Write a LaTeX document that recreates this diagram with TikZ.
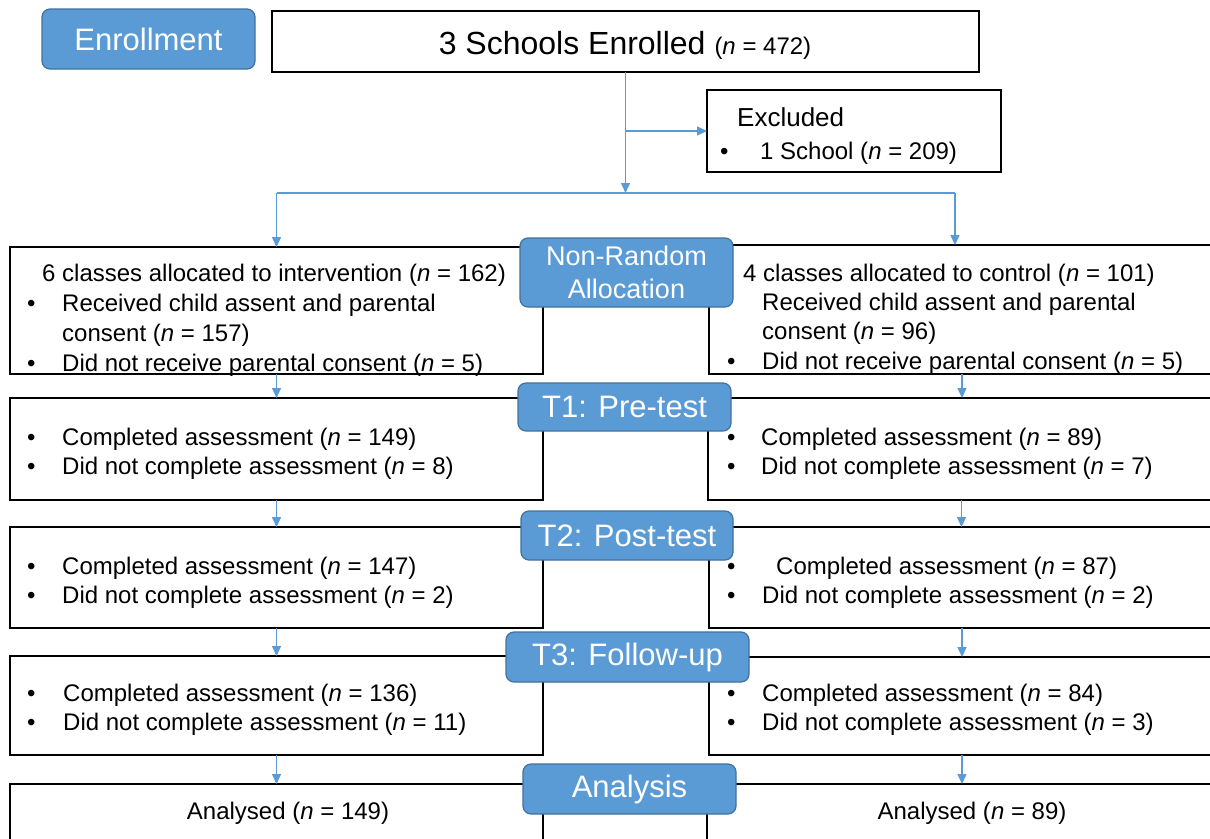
\documentclass[tikz,border=0pt]{standalone}
\usepackage{fontspec}
\setmainfont{Liberation Sans}
\usetikzlibrary{arrows.meta}
\definecolor{lblue}{RGB}{91,155,213}
\definecolor{dblue}{RGB}{65,113,156}
\newcommand\nn{\textit{n}}
\begin{document}
\begin{tikzpicture}[x=1pt,y=-1pt,
  box/.style={draw=black, line width=1.3pt, fill=white, rectangle, anchor=north west, inner sep=0pt, outer sep=0pt},
  lbl/.style={draw=dblue, fill=lblue, line width=1.2pt, rounded corners=8pt, text=white, font=\fontsize{31}{33}\selectfont, inner sep=0pt, align=center},
  arr/.style={draw=lblue, line width=1.5pt, -{Triangle[length=10pt,width=9pt]}},
  ln/.style={draw=lblue, line width=1.5pt},
  txt/.style={anchor=base west, inner sep=0pt, font=\fontsize{24}{28}\selectfont},
  ctxt/.style={anchor=base, inner sep=0pt, font=\fontsize{24}{28}\selectfont}]
\path[use as bounding box, fill=white] (0,0) rectangle (1210,838);
\clip (0,0) rectangle (1210,838);

% boxes
\node[box, minimum width=707pt, minimum height=61pt] (top) at (272,11) {};
\node[box, minimum width=294pt, minimum height=82pt] (excl) at (707,90) {};
\node[box, minimum width=533pt, minimum height=127pt] (L1) at (10,247) {};
\node[box, minimum width=506pt, minimum height=129pt] (R1) at (709,245) {};
\node[box, minimum width=533pt, minimum height=102pt] (L2) at (10,398) {};
\node[box, minimum width=507pt, minimum height=102pt] (R2) at (708,398) {};
\node[box, minimum width=533pt, minimum height=101pt] (L3) at (10,527) {};
\node[box, minimum width=506pt, minimum height=101pt] (R3) at (709,527) {};
\node[box, minimum width=533pt, minimum height=99pt] (L4) at (10,656) {};
\node[box, minimum width=506pt, minimum height=98pt] (R4) at (709,657) {};
\node[box, minimum width=533pt, minimum height=80pt] (L5) at (10,784) {};
\node[box, minimum width=508pt, minimum height=80pt] (R5) at (707,784) {};

% connectors
\coordinate (split) at (625.5,193);
\coordinate (sL) at (276.5,193);
\coordinate (sR) at (955,193);
\draw[arr] (top.south) -- (split);
\draw[arr] (top.south |- excl.west) -- (excl.west);
\draw[ln] (sL) -- (sR);
\draw[arr] (sL) -- (L1.north -| sL);
\draw[arr] (sR) -- (R1.north -| sR);
\draw[arr] (L1.south) -- (L2.north);
\draw[arr] (L2.south) -- (L3.north);
\draw[arr] (L3.south) -- (L4.north);
\draw[arr] (L4.south) -- (L5.north);
\draw[arr] (R1.south) -- (R2.north -| R1.south);
\draw[arr] (R2.south) -- (R3.north -| R2.south);
\draw[arr] (R3.south) -- (R4.north -| R3.south);
\draw[arr] (R4.south) -- (R5.north -| R4.south);

% stage labels
\node[lbl, minimum width=213pt, minimum height=60pt] (enr) at (148.5,39) {Enrollment};
\node[lbl, minimum width=213pt, minimum height=69pt, font=\fontsize{27}{33}\selectfont] (alloc) at (626.5,272.5) {Non-Random\\Allocation};
\node[lbl, minimum width=213pt, minimum height=48pt] (t1) at (624.5,407) {T1: Pre-test};
\node[lbl, minimum width=212pt, minimum height=49pt] (t2) at (627,535.5) {T2: Post-test};
\node[lbl, minimum width=243pt, minimum height=50pt] (t3) at (627.5,657) {T3: Follow-up};
\node[lbl, minimum width=213pt, minimum height=50pt] (ana) at (629.5,789) {Analysis};

% texts
\node[anchor=base, inner sep=0pt, font=\fontsize{32}{36}\selectfont] (toptxt) at (625,54) {3 Schools Enrolled {\fontsize{24}{28}\selectfont(\nn{} = 472)}};
\node[txt, font=\fontsize{26}{30}\selectfont] (ex1) at (737,126) {Excluded};
\node[txt] (exb) at (720,159) {•};
\node[txt] (ex2) at (760,159) {1 School (\nn{} = 209)};

\node[txt] (l1a) at (42,281) {6 classes allocated to intervention (\nn{} = 162)};
\node[txt] (l1bb) at (27,311) {•};
\node[txt] (l1b) at (62,311) {Received child assent and parental};
\node[txt] (l1c) at (62,341) {consent (\nn{} = 157)};
\node[txt] (l1db) at (27,371) {•};
\node[txt] (l1d) at (62,371) {Did not receive parental consent (\nn{} = 5)};

\node[txt] (r1a) at (743,281) {4 classes allocated to control (\nn{} = 101)};
\node[txt] (r1b) at (762,310) {Received child assent and parental};
\node[txt] (r1c) at (762,339) {consent (\nn{} = 96)};
\node[txt] (r1db) at (727,369) {•};
\node[txt] (r1d) at (762,369) {Did not receive parental consent (\nn{} = 5)};

\node[txt] (l2ab) at (27,445) {•};
\node[txt] (l2a) at (62,445) {Completed assessment (\nn{} = 149)};
\node[txt] (l2bb) at (27,474) {•};
\node[txt] (l2b) at (62,474) {Did not complete assessment (\nn{} = 8)};
\node[txt] (r2ab) at (727,445) {•};
\node[txt] (r2a) at (761,445) {Completed assessment (\nn{} = 89)};
\node[txt] (r2bb) at (727,474) {•};
\node[txt] (r2b) at (761,474) {Did not complete assessment (\nn{} = 7)};

\node[txt] (l3ab) at (27,574) {•};
\node[txt] (l3a) at (62,574) {Completed assessment (\nn{} = 147)};
\node[txt] (l3bb) at (27,603) {•};
\node[txt] (l3b) at (62,603) {Did not complete assessment (\nn{} = 2)};
\node[txt] (r3ab) at (727,574) {•};
\node[txt] (r3a) at (776,574) {Completed assessment (\nn{} = 87)};
\node[txt] (r3bb) at (727,603) {•};
\node[txt] (r3b) at (762,603) {Did not complete assessment (\nn{} = 2)};

\node[txt] (l4ab) at (27,701) {•};
\node[txt] (l4a) at (63,701) {Completed assessment (\nn{} = 136)};
\node[txt] (l4bb) at (27,730) {•};
\node[txt] (l4b) at (63,730) {Did not complete assessment (\nn{} = 11)};
\node[txt] (r4ab) at (727,701) {•};
\node[txt] (r4a) at (762,701) {Completed assessment (\nn{} = 84)};
\node[txt] (r4bb) at (727,730) {•};
\node[txt] (r4b) at (762,730) {Did not complete assessment (\nn{} = 3)};

\node[ctxt] (l5) at (288,819) {Analysed (\nn{} = 149)};
\node[ctxt] (r5) at (972,819) {Analysed (\nn{} = 89)};
\end{tikzpicture}
\end{document}
